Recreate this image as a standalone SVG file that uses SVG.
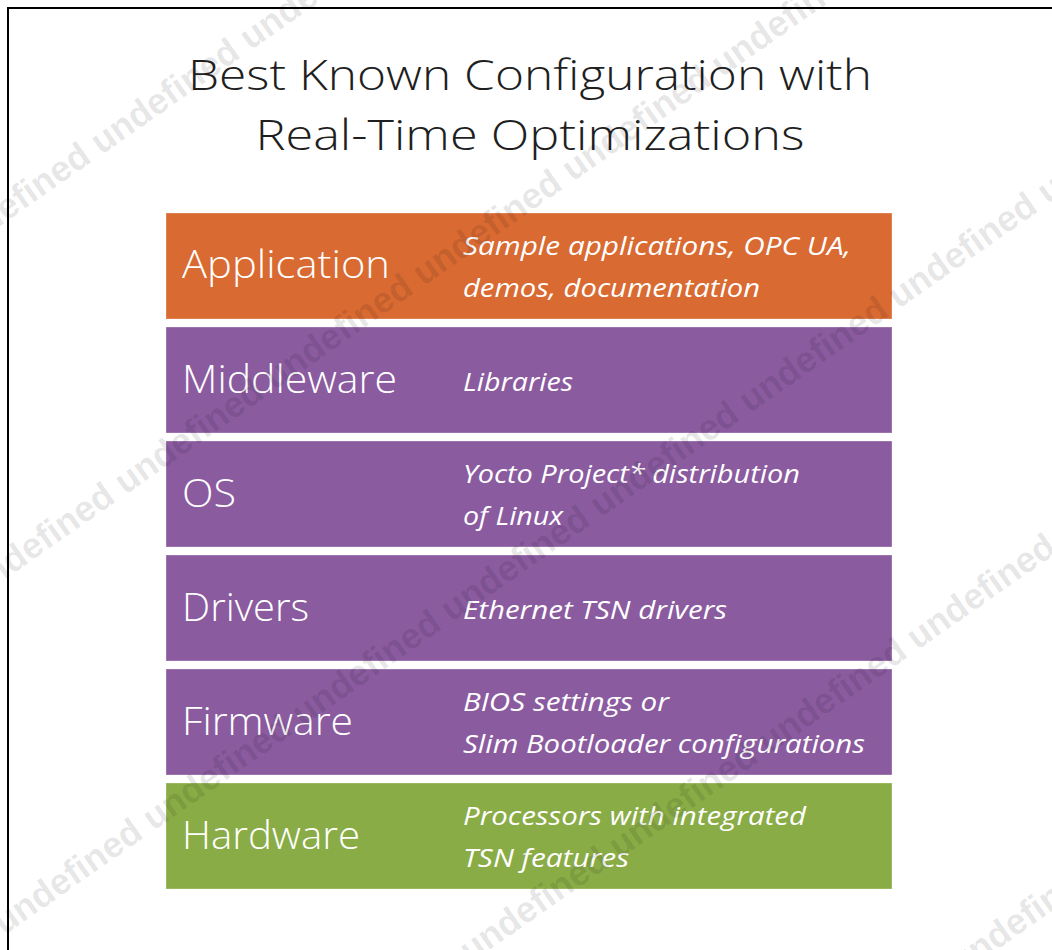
<svg xmlns="http://www.w3.org/2000/svg" width="1052" height="950" viewBox="0 0 1052 950">
<style>
.title{font-family:"Open Sans","Liberation Sans",sans-serif;font-weight:300;font-size:42px;fill:#1f1f1f}
.lbl{font-family:"Open Sans","Liberation Sans",sans-serif;font-weight:300;font-size:38px;fill:#ffffff}
.desc{font-family:"Open Sans","Liberation Sans",sans-serif;font-style:italic;font-size:25px;fill:#ffffff}
.box{stroke:#ffffff;stroke-opacity:0.3;stroke-width:1}
.app{fill:#D96A32}
.mid{fill:#8B5B9F}
.hw{fill:#8AAC46}
.wm{font-family:"Liberation Sans",sans-serif;font-weight:bold;font-size:36px;fill:#000;fill-opacity:0.1}
</style>
<rect x="0" y="0" width="1052" height="950" fill="#ffffff"/>
<rect id="frame" x="8" y="8" width="1100" height="1000" fill="none" stroke="#000" stroke-width="2"/>
<g id="title">
<text class="title" x="530" y="90" text-anchor="middle" textLength="684" lengthAdjust="spacingAndGlyphs">Best Known Configuration with</text>
<text class="title" x="530" y="150" text-anchor="middle" textLength="549" lengthAdjust="spacingAndGlyphs">Real-Time Optimizations</text>
</g>
<g id="application">
<rect class="box app" x="166" y="213" width="726" height="106"/>
<text class="lbl" x="182" y="278" textLength="208" lengthAdjust="spacingAndGlyphs">Application</text>
<text class="desc" x="463" y="255" textLength="388" lengthAdjust="spacingAndGlyphs">Sample applications, OPC UA,</text>
<text class="desc" x="463" y="297" textLength="297" lengthAdjust="spacingAndGlyphs">demos, documentation</text>
</g>
<g id="middleware">
<rect class="box mid" x="166" y="327" width="726" height="106"/>
<text class="lbl" x="182" y="393" textLength="215" lengthAdjust="spacingAndGlyphs">Middleware</text>
<text class="desc" x="463" y="391" textLength="110" lengthAdjust="spacingAndGlyphs">Libraries</text>
</g>
<g id="os">
<rect class="box mid" x="166" y="441" width="726" height="106"/>
<text class="lbl" x="182" y="507" textLength="54" lengthAdjust="spacingAndGlyphs">OS</text>
<text class="desc" x="463" y="483" textLength="337" lengthAdjust="spacingAndGlyphs">Yocto Project* distribution</text>
<text class="desc" x="463" y="525" textLength="100" lengthAdjust="spacingAndGlyphs">of Linux</text>
</g>
<g id="drivers">
<rect class="box mid" x="166" y="555" width="726" height="106"/>
<text class="lbl" x="182" y="621" textLength="127" lengthAdjust="spacingAndGlyphs">Drivers</text>
<text class="desc" x="463" y="619" textLength="264" lengthAdjust="spacingAndGlyphs">Ethernet TSN drivers</text>
</g>
<g id="firmware">
<rect class="box mid" x="166" y="669" width="726" height="106"/>
<text class="lbl" x="182" y="735" textLength="171" lengthAdjust="spacingAndGlyphs">Firmware</text>
<text class="desc" x="463" y="711" textLength="206" lengthAdjust="spacingAndGlyphs">BIOS settings or</text>
<text class="desc" x="463" y="753" textLength="402" lengthAdjust="spacingAndGlyphs">Slim Bootloader configurations</text>
</g>
<g id="hardware">
<rect class="box hw" x="166" y="783" width="726" height="106"/>
<text class="lbl" x="182" y="849" textLength="178" lengthAdjust="spacingAndGlyphs">Hardware</text>
<text class="desc" x="463" y="825" textLength="343" lengthAdjust="spacingAndGlyphs">Processors with integrated</text>
<text class="desc" x="463" y="867" textLength="166" lengthAdjust="spacingAndGlyphs">TSN features</text>
</g>
<g id="watermark">
<text class="wm" transform="translate(-197,364) rotate(-35)" textLength="718" lengthAdjust="spacing">undefined undefined undefined undefined</text>
<text class="wm" transform="translate(-173,704) rotate(-35)" textLength="1264" lengthAdjust="spacing">undefined undefined undefined undefined undefined undefined undefined</text>
<text class="wm" transform="translate(-145,1040) rotate(-35)" textLength="1628" lengthAdjust="spacing">undefined undefined undefined undefined undefined undefined undefined undefined undefined</text>
<text class="wm" transform="translate(321,1068) rotate(-35)" textLength="1082" lengthAdjust="spacing">undefined undefined undefined undefined undefined undefined</text>
<text class="wm" transform="translate(811,1080) rotate(-35)" textLength="536" lengthAdjust="spacing">undefined undefined undefined</text>
</g>
</svg>
